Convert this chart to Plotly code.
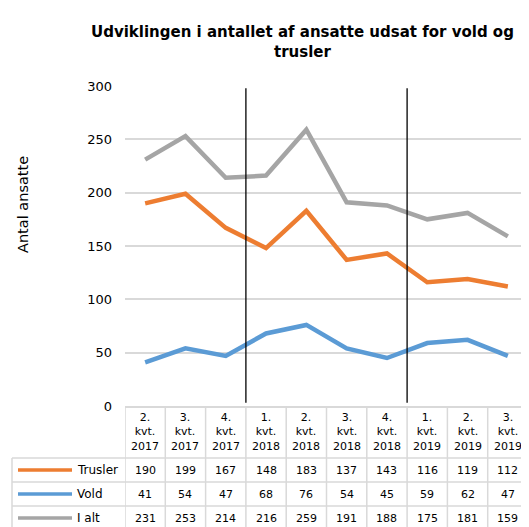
import plotly.graph_objects as go

categories = ["2.<br>kvt.<br>2017", "3.<br>kvt.<br>2017", "4.<br>kvt.<br>2017",
              "1.<br>kvt.<br>2018", "2.<br>kvt.<br>2018", "3.<br>kvt.<br>2018",
              "4.<br>kvt.<br>2018", "1.<br>kvt.<br>2019", "2.<br>kvt.<br>2019",
              "3.<br>kvt.<br>2019"]
trusler = [190, 199, 167, 148, 183, 137, 143, 116, 119, 112]
vold = [41, 54, 47, 68, 76, 54, 45, 59, 62, 47]
i_alt = [231, 253, 214, 216, 259, 191, 188, 175, 181, 159]
series_names = ["Trusler", "Vold", "I alt"]
series_values = [trusler, vold, i_alt]
series_colors = ["#ED7D31", "#5B9BD5", "#A5A5A5"]
y_ticks = [0, 50, 100, 150, 200, 250, 300]
divider_positions = [2.5, 6.5]

# page body has an 8px margin; figure sized to fit the window
OFF = 8
W, H = 529 - OFF, 527 - OFF
# plot area in window pixels
PL, PR, PT, PB = 125, 528, 86, 406
L, R, T, B = PL - OFF, W - (PR - OFF), PT - OFF, H - (PB - OFF)
PW = PR - PL
PH = PB - PT
FONT = "DejaVu Sans"
GRID = "#d9d9d9"


def px_y(py):
    return (PB - py) / PH


def px_x(px):
    return (px - PL) / PW


xs = list(range(len(categories)))
fig = go.Figure()
for name, vals, col in zip(series_names, series_values, series_colors):
    fig.add_trace(go.Scatter(x=xs, y=vals, mode="lines", name=name,
                             line=dict(color=col, width=4.5), showlegend=False))

shapes = []
annotations = []

# divider lines
for xv in divider_positions:
    shapes.append(dict(type="line", xref="x", yref="y", x0=xv, x1=xv, y0=3, y1=298,
                       line=dict(color="black", width=1.3)))

# table geometry (window pixels)
header_top, header_bot = 406, 458
row_h = 24
table_bottom = 530
legend_left = 12

for k in range(len(series_names)):
    yy = header_bot + k * row_h
    shapes.append(dict(type="line", xref="paper", yref="paper",
                       x0=px_x(legend_left), x1=1, y0=px_y(yy), y1=px_y(yy),
                       line=dict(color=GRID, width=1.5)))
for i in range(len(categories) + 1):
    shapes.append(dict(type="line", xref="x", yref="paper", x0=i - 0.5, x1=i - 0.5,
                       y0=px_y(header_top), y1=px_y(table_bottom),
                       line=dict(color=GRID, width=1.5)))
shapes.append(dict(type="line", xref="paper", yref="paper", x0=px_x(legend_left),
                   x1=px_x(legend_left), y0=px_y(header_bot), y1=px_y(table_bottom),
                   line=dict(color=GRID, width=1.5)))

for i, c in enumerate(categories):
    annotations.append(dict(x=i, y=px_y((header_top + header_bot) / 2), xref="x",
                            yref="paper", text=c, showarrow=False,
                            font=dict(family=FONT, size=11, color="black"),
                            xanchor="center", yanchor="middle"))
for k, (name, vals, col) in enumerate(zip(series_names, series_values, series_colors)):
    yc = header_bot + k * row_h + row_h / 2
    shapes.append(dict(type="line", xref="paper", yref="paper", x0=px_x(18), x1=px_x(72),
                       y0=px_y(yc), y1=px_y(yc), line=dict(color=col, width=3.5)))
    annotations.append(dict(x=px_x(75), y=px_y(yc), xref="paper", yref="paper",
                            text=name, showarrow=False, xanchor="left", yanchor="middle",
                            font=dict(family=FONT, size=12, color="black")))
    for i, v in enumerate(vals):
        annotations.append(dict(x=i, y=px_y(yc), xref="x", yref="paper", text=str(v),
                                showarrow=False, xanchor="center", yanchor="middle",
                                font=dict(family=FONT, size=11, color="black")))

annotations.append(dict(x=px_x(302), y=px_y(42), xref="paper", yref="paper",
                        text="<b>Udviklingen i antallet af ansatte udsat for vold og<br>trusler</b>",
                        showarrow=False, xanchor="center", yanchor="middle",
                        font=dict(family=FONT, size=15, color="black")))
annotations.append(dict(x=px_x(23), y=px_y(205), xref="paper", yref="paper",
                        text="Antal ansatte", textangle=-90, showarrow=False,
                        xanchor="center", yanchor="middle",
                        font=dict(family=FONT, size=14.5, color="black")))

fig.update_layout(
    width=W, height=H,
    margin=dict(l=L, r=R, t=T, b=B),
    paper_bgcolor="white", plot_bgcolor="white",
    shapes=shapes, annotations=annotations,
    xaxis=dict(range=[-0.5, len(categories) - 0.5], showticklabels=False,
               showgrid=False, zeroline=False, showline=True, linecolor=GRID,
               linewidth=1.5, fixedrange=True),
    yaxis=dict(range=[0, 300], tickvals=y_ticks, showgrid=True, gridcolor=GRID,
               gridwidth=1.5, zeroline=False, showline=False, ticklabelstandoff=12,
               tickfont=dict(family=FONT, size=13, color="black"), fixedrange=True),
)

fig.write_html("out.html")
